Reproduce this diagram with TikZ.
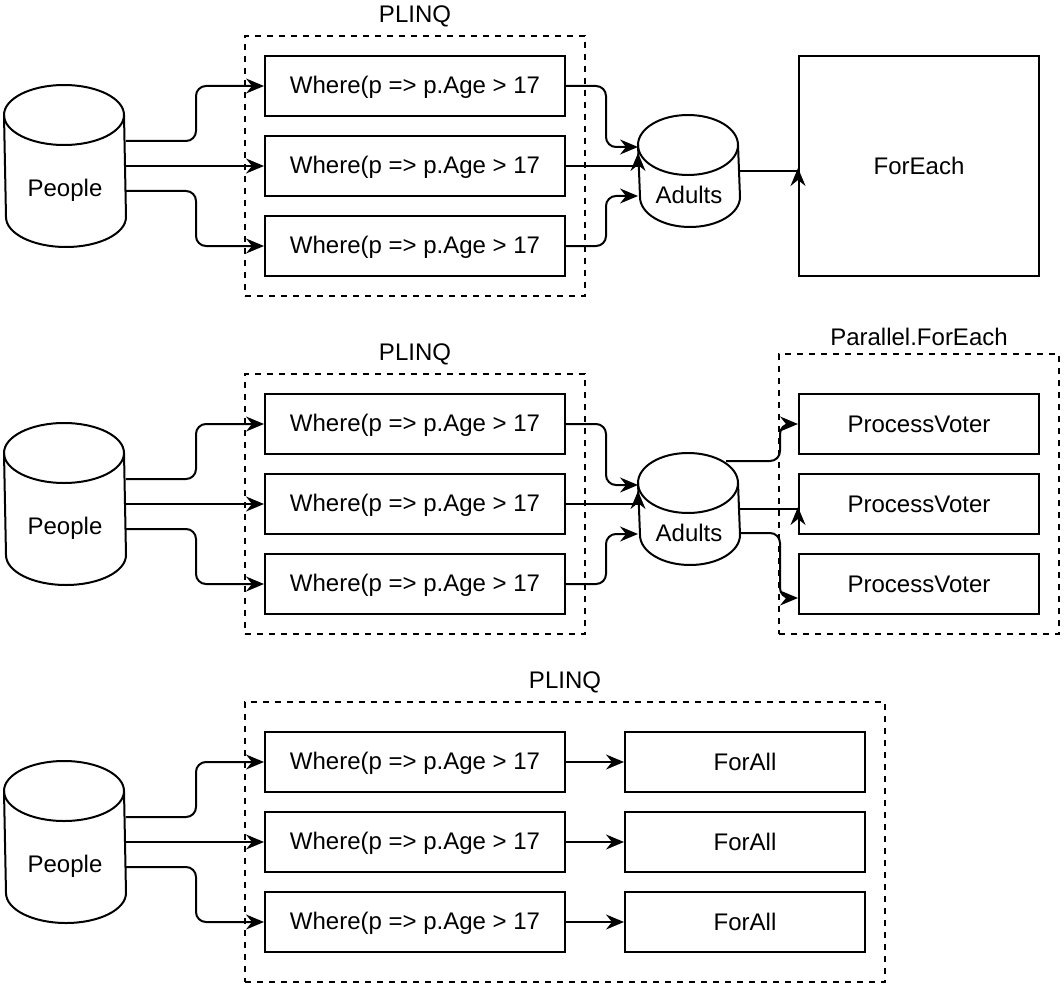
\documentclass[tikz,border=0pt]{standalone}
\usepackage{fontspec}
\setmainfont{Liberation Sans}
\usetikzlibrary{arrows.meta}

\begin{document}
\begin{tikzpicture}[
x=0.5pt,y=-0.5pt,
line width=1pt,
font=\fontsize{12pt}{14pt}\selectfont,
box/.style={draw,minimum width=150pt,minimum height=30pt,inner sep=0pt},
sink/.style={box,minimum width=120pt},
group/.style={draw,dashed,dash pattern=on 3pt off 3pt,label distance=1.5pt},
db/.style={minimum width=60pt,minimum height=80pt,inner sep=0pt},
>={Stealth[length=9pt,width=7.5pt,inset=3pt]}
]
\useasboundingbox (0,0) rectangle (1064,984);

% dashed groups
\node[group,minimum width=170pt,minimum height=130pt,label=above:PLINQ] (plinq1) at (415,166) {};
\node[group,minimum width=170pt,minimum height=130pt,label=above:PLINQ] (plinq2) at (415,504) {};
\node[group,minimum width=140pt,minimum height=140pt,label=above:Parallel.ForEach] (pfe) at (919,494) {};
\node[group,minimum width=320pt,minimum height=140pt,label=above:PLINQ] (plinq3) at (565,842) {};

% sources and buffers
\node[db,label={[yshift=-12pt]center:People}] (ppl1) at (65,166) {};
\node[db,label={[yshift=-12pt]center:People}] (ppl2) at (65,504) {};
\node[db,label={[yshift=-12pt]center:People}] (ppl3) at (65,842) {};
\node[db,minimum width=50pt,minimum height=55pt,label={[yshift=-12pt]center:Adults}] (ad1) at (689,171) {};
\node[db,minimum width=50pt,minimum height=55pt,label={[yshift=-12pt]center:Adults}] (ad2) at (689,509) {};

\foreach \c/\rx in {ppl1/30pt,ppl2/30pt,ppl3/30pt,ad1/25pt,ad2/25pt}{
  \draw ([yshift=-15pt]\c.north west) arc[start angle=180,end angle=0,x radius=\rx,y radius=15pt]
    -- ([yshift=15pt]\c.south east) arc[start angle=0,end angle=-180,x radius=\rx,y radius=15pt] -- cycle;
  \draw ([yshift=-15pt]\c.north west) arc[start angle=180,end angle=360,x radius=\rx,y radius=15pt];
}

% filters
\foreach \s/\y in {1/86,2/424,3/762}{
  \node[box,text depth=1pt] (w\s1) at (415,\y) {Where(p => p.Age > 17};
  \node[box,text depth=1pt] (w\s2) at (415,\y+80) {Where(p => p.Age > 17};
  \node[box,text depth=1pt] (w\s3) at (415,\y+160) {Where(p => p.Age > 17};
}

\node[draw,minimum width=120pt,minimum height=110pt] (fe) at (919,166) {ForEach};
\node[sink] (pv1) at (919,424) {ProcessVoter};
\node[sink] (pv2) at (919,504) {ProcessVoter};
\node[sink] (pv3) at (919,584) {ProcessVoter};
\node[sink] (fa1) at (745,762) {ForAll};
\node[sink] (fa2) at (745,842) {ForAll};
\node[sink] (fa3) at (745,922) {ForAll};

% people -> where
\foreach \s in {1,2,3}{
  \draw[->,rounded corners=5pt] ([yshift=12.5pt]ppl\s.east) -- ++(70,0) |- (w\s1.west);
  \draw[->] (ppl\s.east) -- (w\s2.west);
  \draw[->,rounded corners=5pt] ([yshift=-12.5pt]ppl\s.east) -- ++(70,0) |- (w\s3.west);
}

% where -> adults
\foreach \s in {1,2}{
  \draw[->,rounded corners=5pt] (w\s1.east) -- ++(40,0) |- ([yshift=12pt]ad\s.west);
  \draw[->] (w\s2.east) -| ([yshift=9pt]ad\s.west);
  \draw[->,rounded corners=5pt] (w\s3.east) -- ++(40,0) |- ([yshift=-12.5pt]ad\s.west);
}

\draw[->] (ad1.east) -| ([yshift=-1pt]fe.west);

\draw[->,rounded corners=5pt] ([xshift=-7pt,yshift=-4pt]ad2.north east) -- ++(54,0) |- (pv1.west);
\draw[->] (ad2.east) -| ([yshift=-1.5pt]pv2.west);
\draw[->,rounded corners=5pt] ([yshift=-12pt]ad2.east) -- ++(40,0) |- ([yshift=-7pt]pv3.west);

% where -> forall
\draw[->] (w31) -- (fa1);
\draw[->] (w32) -- (fa2);
\draw[->] (w33) -- (fa3);
\end{tikzpicture}
\end{document}
